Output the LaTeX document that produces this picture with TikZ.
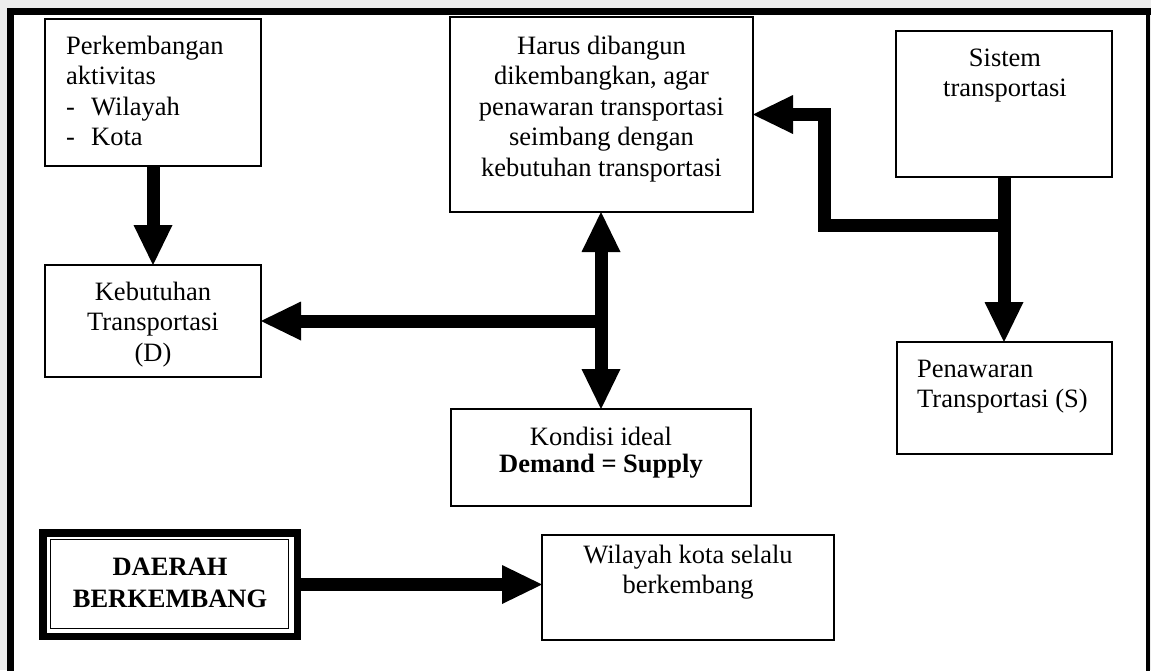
\documentclass[tikz,border=0pt]{standalone}
\usepackage{fontspec}
\setmainfont{Liberation Serif}
\usetikzlibrary{arrows.meta,calc}
\begin{document}
\begin{tikzpicture}[x=1pt,y=-1pt,
  box/.style={draw, line width=1.6pt, inner sep=0pt, outer sep=0pt},
  txt/.style={inner sep=0pt, anchor=base, font=\fontsize{26.5}{30.5}\selectfont},
  txtl/.style={txt, anchor=base west},
  fat/.style={line width=13pt, line cap=butt, line join=miter},
  hd/.style={-{Triangle[width=39pt,length=40pt,line width=0pt]}},
  hdhd/.style={{Triangle[width=39pt,length=40pt,line width=0pt]}-{Triangle[width=39pt,length=40pt,line width=0pt]}},
]
\useasboundingbox (0,0) rectangle (1151,670);
% page background and frame
\fill[gray!14] (0,0) rectangle (1151,670);
\fill[white] (10,11) rectangle (1148,675);
\draw[line width=7pt] (10,675) -- (10,11) -- (1151,11);
\draw[line width=4pt] (1148,11) -- (1148,675);

% boxes
\node[box, minimum width=216, minimum height=147] (perk) at (153,92.5) {};
\node[box, minimum width=216, minimum height=112] (keb) at (153,321) {};
\node[box, minimum width=303, minimum height=195] (harus) at (601.5,114.5) {};
\node[box, minimum width=216, minimum height=146] (sis) at (1004,104) {};
\node[box, minimum width=215, minimum height=112] (pen) at (1004.5,398) {};
\node[box, minimum width=300, minimum height=97] (kond) at (601,457.5) {};
\node[box, minimum width=292, minimum height=105] (wil) at (688,587.5) {};
\node[draw, line width=7.5pt, inner sep=0pt, outer sep=0pt, minimum width=254.5, minimum height=103.5] (daerah) at (170,584.5) {};
\draw[line width=1.5pt] ($(daerah.north west)+(7.75,6.75)$) rectangle ($(daerah.south east)+(-8.75,-7.75)$);

% texts
\node[txtl] (perkT) at (66,54) {\begin{tabular}[t]{@{}l@{}}Perkembangan\\aktivitas\\\makebox[25pt][l]{-}Wilayah\\\makebox[25pt][l]{-}Kota\end{tabular}};
\node[txt] (kebT) at (153,300) {\begin{tabular}[t]{@{}c@{}}Kebutuhan\\Transportasi\\(D)\end{tabular}};
\node[txt] (harusT) at (601.5,54) {\begin{tabular}[t]{@{}c@{}}Harus dibangun\\dikembangkan, agar\\penawaran transportasi\\seimbang dengan\\kebutuhan transportasi\end{tabular}};
\node[txt] (sisT) at (1005,66) {\begin{tabular}[t]{@{}c@{}}Sistem\\transportasi\end{tabular}};
\node[txtl] (penT) at (917,377) {\begin{tabular}[t]{@{}l@{}}Penawaran\\Transportasi (S)\end{tabular}};
\node[txt] (kondT) at (601,445) {\begin{tabular}[t]{@{}c@{}}Kondisi ideal\\[-3.5pt]\textbf{Demand = Supply}\end{tabular}};
\node[txt] (daerahT) at (170,575) {\begin{tabular}[t]{@{}c@{}}\textbf{DAERAH}\\[1.5pt]\textbf{BERKEMBANG}\end{tabular}};
\node[txt] (wilT) at (688,563) {\begin{tabular}[t]{@{}c@{}}Wilayah kota selalu\\berkembang\end{tabular}};

% connectors
\draw[fat,hd] (perk.south) -- (keb.north);
\draw[fat,hdhd] (kond.north) -- (kond.north |- harus.south);
\coordinate (jc) at (kond.north |- keb.east);
\draw[fat,hd] (jc) -- (keb.east);
\draw[fat,hd] (sis.south) -- (sis.south |- pen.north);
\coordinate (js) at ($(sis.south)+(0,48)$);
\draw[fat,hd] (js) -- ++(-180,0) |- (harus.east);
\draw[fat,hd] (daerah.east) -- (daerah.east -| wil.west);
\end{tikzpicture}
\end{document}
